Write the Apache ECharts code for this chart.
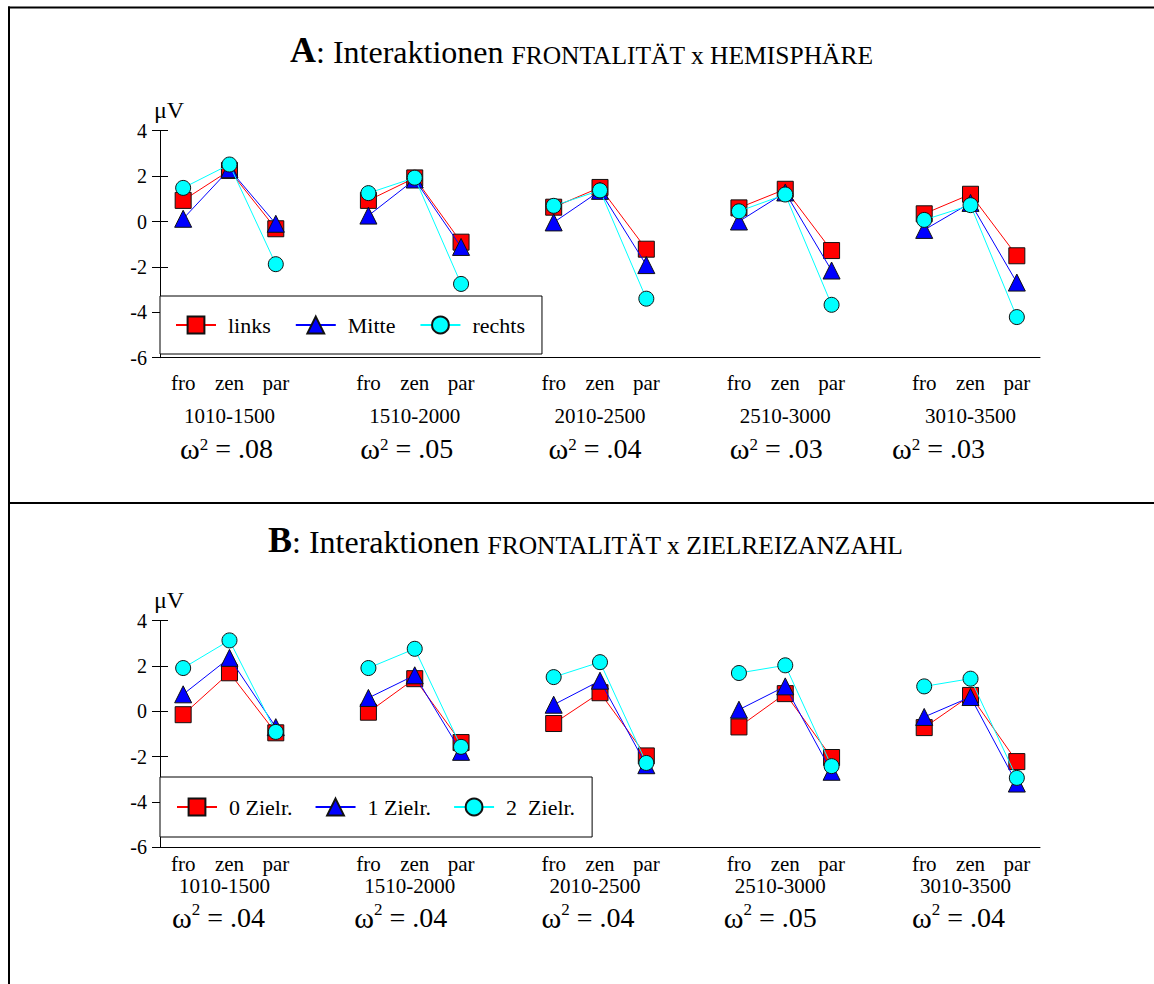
<!DOCTYPE html>
<html><head><meta charset="utf-8">
<script src="https://cdn.jsdelivr.net/npm/echarts@6/dist/echarts.min.js"></script>
<style>html,body{margin:0;padding:0;background:#fff}#c{width:1154px;height:984px}</style>
</head><body><div id="c"></div>
<script>
// ---------- data ----------
const regions = ['fro', 'zen', 'par'];
const windows = ['1010-1500', '1510-2000', '2010-2500', '2510-3000', '3010-3500'];
const omegaA = ['.08', '.05', '.04', '.03', '.03'];
const omegaB = ['.04', '.04', '.04', '.05', '.04'];
const yMin = -6, yMax = 4, yStep = 2;

const namesA = ['links', 'Mitte', 'rechts'];
const namesB = ['0 Zielr.', '1 Zielr.', '2  Zielr.'];

// values per window in order fro, zen, par
const linksA  = [0.93, 2.25, -0.32,  0.93, 1.92, -0.91,  0.63, 1.50, -1.22,  0.60, 1.42, -1.28,  0.34, 1.20, -1.51];
const mitteA  = [0.12, 2.30, -0.10,  0.26, 1.85, -1.12, -0.04, 1.35, -1.92,  0.00, 1.28, -2.16, -0.37, 0.82, -2.69];
const rechtsA = [1.48, 2.51, -1.88,  1.25, 1.93, -2.75,  0.69, 1.37, -3.40,  0.45, 1.19, -3.67,  0.07, 0.72, -4.21];

const ziel0B = [-0.15, 1.70, -0.95, -0.04, 1.44, -1.38, -0.54, 0.82, -1.97, -0.69, 0.78, -2.04, -0.72, 0.70, -2.22];
const ziel1B = [ 0.75, 2.36, -0.70,  0.59, 1.59, -1.79,  0.29, 1.35, -2.38,  0.07, 1.10, -2.67, -0.25, 0.63, -3.19];
const ziel2B = [ 1.91, 3.13, -0.91,  1.91, 2.76, -1.57,  1.51, 2.17, -2.28,  1.69, 2.03, -2.42,  1.10, 1.44, -2.94];

// ---------- layout / style ----------
const FONT = 'Liberation Serif';
const colors = ['#ff0000', '#0000ff', '#00ffff'];
const symbols = ['rect', 'triangle', 'circle'];
const symbolSizes = [16, 17, 15];
const omegaShiftA = [-3, -8, -5, -9, -32];
const omegaShiftB = [-11, -14, -12, -15, -12];
const groupShiftB = [-5, -5, -5, -5, -5];

// category keys: 5 groups of 3 + a gap between groups
const cats = [];
for (let g = 0; g < windows.length; g++) {
  for (let r = 0; r < regions.length; r++) cats.push('g' + g + '_' + regions[r]);
  if (g < windows.length - 1) cats.push('gap' + g);
}
function expand(vals) {
  const out = [];
  for (let g = 0; g < windows.length; g++) {
    for (let r = 0; r < regions.length; r++) out.push(vals[g * regions.length + r]);
    if (g < windows.length - 1) out.push(null);
  }
  return out;
}

function makeRich(lh, omegaShift, groupShift) {
  const rich = {
    c: { fontFamily: FONT, fontSize: 21, color: '#000', lineHeight: lh[0] },
    s: { fontFamily: FONT, fontSize: 17, color: '#000', lineHeight: lh[2], verticalAlign: 'top' },
    o: { fontFamily: FONT, fontSize: 30, color: '#000', lineHeight: lh[2] }
  };
  for (let i = 0; i < windows.length; i++) {
    const gs = groupShift ? groupShift[i] : 0;
    rich['g' + i] = { fontFamily: FONT, fontSize: 21, color: '#000', lineHeight: lh[1],
      padding: gs < 0 ? [0, -2 * gs, 0, 0] : [0, 0, 0, 2 * gs] };
    const os = omegaShift[i];
    rich['w' + i] = { fontFamily: FONT, fontSize: 28, color: '#000', lineHeight: lh[2],
      padding: os < 0 ? [0, -2 * os, 0, 0] : [0, 0, 0, 2 * os] };
  }
  return rich;
}
function labelFormatter(omegas) {
  return function (value, index) {
    const g = Math.floor(index / 4), p = index % 4;
    if (p === 3) return '';
    if (p === 1) {
      return '{c|' + regions[1] + '}\n{g' + g + '|' + windows[g] + '}\n{o|\u03c9}{s|2}{w' + g + '| = ' + omegas[g] + '}';
    }
    return '{c|' + regions[p] + '}';
  };
}

function xAxis(gridIndex, margin, rich, omegas) {
  return {
    type: 'category', gridIndex: gridIndex, data: cats, boundaryGap: true,
    axisLine: { onZero: false, lineStyle: { color: '#000', width: 1 } },
    axisTick: { alignWithLabel: true, length: 9, lineStyle: { color: '#444' } },
    axisLabel: { interval: 0, margin: margin, formatter: labelFormatter(omegas), rich: rich, color: '#000' },
    splitLine: { show: false }
  };
}
function yAxes(gridIndex) {
  const base = { type: 'value', gridIndex: gridIndex, min: yMin, max: yMax, interval: yStep, position: 'left', splitLine: { show: false } };
  return [
    Object.assign({}, base, {
      name: '\u03bcV', nameLocation: 'end', nameGap: 9,
      nameTextStyle: { fontFamily: FONT, fontSize: 24, color: '#000', align: 'center', padding: [0, 0, 0, 18] },
      axisLine: { show: true, lineStyle: { color: '#000', width: 1 } },
      axisTick: { show: true, inside: false, length: 8, lineStyle: { color: '#000' } },
      axisLabel: { fontFamily: FONT, fontSize: 20, color: '#000', margin: 13 }
    }),
    Object.assign({}, base, {
      axisLine: { show: false },
      axisTick: { show: true, inside: true, length: 8, lineStyle: { color: '#000' } },
      axisLabel: { show: false }
    })
  ];
}
function makeSeries(names, datas, xi, yi) {
  return names.map((n, i) => ({
    name: n, type: 'line', xAxisIndex: xi, yAxisIndex: yi,
    data: expand(datas[i]), connectNulls: false, showAllSymbol: true,
    symbol: symbols[i], symbolSize: symbolSizes[i],
    lineStyle: { color: colors[i], width: 1 },
    itemStyle: { color: colors[i], borderColor: '#111', borderWidth: 1 },
    emphasis: { disabled: true }, z: 2 + i
  }));
}
function legend(names, top, pad, gap) {
  return {
    data: names, left: 160, top: top, orient: 'horizontal',
    itemWidth: 40, itemHeight: 21, itemGap: gap, padding: pad,
    borderColor: '#000', borderWidth: 1, backgroundColor: '#fff',
    textStyle: { fontFamily: FONT, fontSize: 22, color: '#000', lineHeight: 21, padding: [0, 0, 0, 7] },
    selectedMode: false
  };
}
function titleRich() {
  return {
    a: { fontFamily: FONT, fontSize: 36, fontWeight: 'bold', color: '#000', lineHeight: 40, verticalAlign: 'bottom' },
    b: { fontFamily: FONT, fontSize: 32, fontWeight: 'normal', color: '#000', lineHeight: 40, verticalAlign: 'bottom' },
    c: { fontFamily: FONT, fontSize: 25.5, fontWeight: 'normal', color: '#000', lineHeight: 40, verticalAlign: 'bottom' }
  };
}

const chart = echarts.init(document.getElementById('c'), null, { renderer: 'svg' });
chart.setOption({
  animation: false,
  backgroundColor: '#fff',
  title: [
    { text: '{a|A}{b|: Interaktionen }{c|FRONTALIT\u00c4T x HEMISPH\u00c4RE}', left: 290, top: 28, padding: 0,
      textStyle: { fontWeight: 'normal', rich: titleRich() } },
    { text: '{a|B}{b|: Interaktionen }{c|FRONTALIT\u00c4T x ZIELREIZANZAHL}', left: 268, top: 518, padding: 0,
      textStyle: { fontWeight: 'normal', rich: titleRich() } }
  ],
  legend: [
    legend(namesA, 296, [18, 17, 18, 15], 24),
    legend(namesB, 777, [19, 17, 19, 16], 22)
  ],
  grid: [
    { left: 160, width: 880, top: 130.7, height: 227 },
    { left: 160, width: 880, top: 620.7, height: 226.5 }
  ],
  xAxis: [
    xAxis(0, 12, makeRich([26, 40, 26], omegaShiftA, null), omegaA),
    xAxis(1, 10, makeRich([14, 30, 32], omegaShiftB, groupShiftB), omegaB)
  ],
  yAxis: yAxes(0).concat(yAxes(1)),
  series: makeSeries(namesA, [linksA, mitteA, rechtsA], 0, 0)
    .concat(makeSeries(namesB, [ziel0B, ziel1B, ziel2B], 1, 2)),
  graphic: [
    { type: 'line', shape: { x1: 8, y1: 7.5, x2: 1154, y2: 7.5 }, style: { stroke: '#000', lineWidth: 2 } },
    { type: 'line', shape: { x1: 9, y1: 6.5, x2: 9, y2: 984 }, style: { stroke: '#000', lineWidth: 2 } },
    { type: 'line', shape: { x1: 8, y1: 503, x2: 1154, y2: 503 }, style: { stroke: '#000', lineWidth: 2 } }
  ]
});
</script></body></html>
